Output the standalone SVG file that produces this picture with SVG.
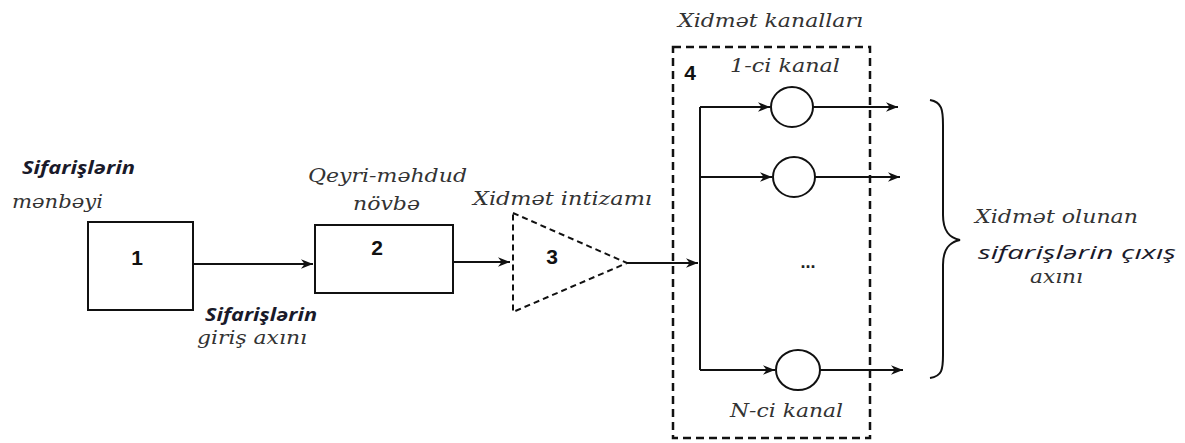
<svg xmlns="http://www.w3.org/2000/svg" width="1185" height="443" viewBox="0 0 1185 443">
<style>
.ln{stroke:#111;stroke-width:2;fill:none}
.bx{stroke:#111;stroke-width:2;fill:#fff}
.num{font-family:"Liberation Sans",Arial,sans-serif;font-weight:bold;font-size:21px;fill:#111}
.ser{font-family:"DejaVu Serif","Liberation Serif","Times New Roman",serif;font-style:italic;font-size:19px;fill:#333}
.san{font-family:"Open Sans","Noto Sans",sans-serif;font-style:italic;font-size:18px;fill:#1a1a2a}
</style>
<defs>
<marker id="ah" viewBox="0 0 10 10" refX="10" refY="5" markerWidth="12" markerHeight="12" markerUnits="userSpaceOnUse" orient="auto">
<path d="M0,1 L10,5 L0,9 L3,5 Z" fill="#111"/>
</marker>
</defs>
<rect width="1185" height="443" fill="#fff"/>
<g id="labels">
<text class="san" x="22" y="174" font-weight="bold" textLength="113" lengthAdjust="spacingAndGlyphs">Sifarişlərin</text>
<text class="ser" x="12" y="208" textLength="91" lengthAdjust="spacingAndGlyphs">mənbəyi</text>
<text class="san" x="205" y="321" font-weight="bold" textLength="112" lengthAdjust="spacingAndGlyphs">Sifarişlərin</text>
<text class="ser" x="197" y="344" textLength="110" lengthAdjust="spacingAndGlyphs">giriş axını</text>
<text class="ser" x="308" y="182" textLength="159" lengthAdjust="spacingAndGlyphs">Qeyri-məhdud</text>
<text class="ser" x="353" y="210" textLength="67" lengthAdjust="spacingAndGlyphs">növbə</text>
<text class="ser" x="473" y="205" textLength="179" lengthAdjust="spacingAndGlyphs">Xidmət intizamı</text>
<text class="ser" x="678" y="27" textLength="185" lengthAdjust="spacingAndGlyphs">Xidmət kanalları</text>
<text class="ser" x="730" y="72" textLength="110" lengthAdjust="spacingAndGlyphs">1-ci kanal</text>
<text class="ser" x="730" y="417" textLength="113" lengthAdjust="spacingAndGlyphs">N-ci kanal</text>
<text class="ser" x="975" y="223" textLength="163" lengthAdjust="spacingAndGlyphs">Xidmət olunan</text>
<text class="san" x="978" y="259" textLength="198" lengthAdjust="spacingAndGlyphs">sifarişlərin çıxış</text>
<text class="ser" x="1030" y="283" font-size="16" textLength="53" lengthAdjust="spacingAndGlyphs">axını</text>
</g>
<g id="node1">
<rect class="bx" x="88" y="222" width="105" height="88"/>
<text class="num" x="137" y="265" text-anchor="middle">1</text>
</g>
<g id="node2">
<rect class="bx" x="315" y="225" width="138" height="68"/>
<text class="num" x="377" y="255" text-anchor="middle">2</text>
</g>
<g id="node3">
<path d="M513,213 L627,263 L513,312 Z" fill="none" stroke="#111" stroke-width="2" stroke-dasharray="6,4"/>
<text class="num" x="552" y="264" text-anchor="middle">3</text>
</g>
<g id="node4">
<rect x="673" y="47" width="197" height="391" fill="none" stroke="#111" stroke-width="2.5" stroke-dasharray="8,5"/>
<text class="num" x="690" y="80" text-anchor="middle">4</text>
<ellipse cx="792" cy="107" rx="21" ry="20" class="bx"/>
<ellipse cx="794" cy="177" rx="21" ry="20" class="bx"/>
<ellipse cx="798" cy="370" rx="22" ry="20" class="bx"/>
<text x="808" y="268" text-anchor="middle" font-family="Liberation Sans,Arial,sans-serif" font-weight="bold" font-size="18" fill="#222">...</text>
</g>
<g id="brace">
<path d="M930,100 C942,102 943,110 943,125 L943,215 C943,232 950,238 960,240 C950,242 943,248 943,265 L943,355 C943,370 942,376 930,378" class="ln"/>
</g>
<g id="connectors">
<line class="ln" x1="193" y1="264" x2="313" y2="264" marker-end="url(#ah)"/>
<line class="ln" x1="453" y1="262" x2="510" y2="262" marker-end="url(#ah)"/>
<line class="ln" x1="627" y1="263" x2="698" y2="263" marker-end="url(#ah)"/>
<polyline class="ln" points="700,107 700,370"/>
<line class="ln" x1="700" y1="107" x2="770" y2="107" marker-end="url(#ah)"/>
<line class="ln" x1="700" y1="177" x2="772" y2="177" marker-end="url(#ah)"/>
<line class="ln" x1="700" y1="370" x2="775" y2="370" marker-end="url(#ah)"/>
<line class="ln" x1="813" y1="107" x2="898" y2="107" marker-end="url(#ah)"/>
<line class="ln" x1="815" y1="177" x2="900" y2="177" marker-end="url(#ah)"/>
<line class="ln" x1="820" y1="370" x2="903" y2="370" marker-end="url(#ah)"/>
</g>
</svg>
